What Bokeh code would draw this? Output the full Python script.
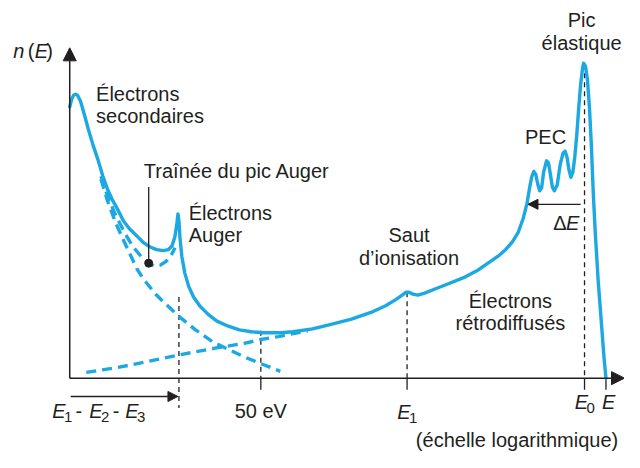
from bokeh.plotting import figure
from bokeh.models import Range1d, Arrow, NormalHead, ColumnDataSource
from bokeh.core.properties import value
from bokeh.embed import file_html
from bokeh.resources import INLINE

BLUE = "#1ba8e3"
INK = "#231f20"
FONT = value("Liberation Sans")

# ---- data (schematic spectrum, in picture units) ----
main_x = [71, 73, 75, 77, 79, 82, 86, 90, 95, 100, 105, 110, 115, 120, 126, 132, 140, 147, 153, 160,
          167, 172, 176, 179, 181, 182, 183, 184, 186, 189, 193, 198, 205, 213, 222, 233, 245, 257, 270,
          287, 300, 320, 340, 360, 380, 395, 405, 412, 416, 419, 423, 428, 435, 445, 460, 475, 490, 500,
          510, 518, 525, 531, 536, 540, 543, 545, 547, 549, 551, 553, 555, 557, 560, 562, 564, 566, 568,
          571, 574, 577, 579, 581, 583, 585, 587, 589, 591, 593, 595, 597, 598, 600, 602, 604, 606, 608,
          610, 613, 616, 619, 621]
main_y = [110, 102, 98, 97, 98, 104, 118, 133, 150, 165, 182, 196, 207, 216, 228, 236, 244, 251, 255, 258,
          259, 258, 254, 244, 230, 221, 228, 245, 265, 282, 296, 307, 317, 325, 332, 337, 341, 343, 344,
          344, 343, 340, 335, 330, 323, 316, 310, 305, 302, 302, 304, 305, 303, 299, 293, 287, 279, 272,
          265, 258, 250, 240, 226, 210, 192, 182, 177, 180, 190, 197, 194, 178, 166, 168, 180, 193, 197,
          191, 170, 158, 156, 162, 175, 183, 178, 162, 140, 112, 87, 70, 65, 68, 82, 110, 150, 200,
          240, 290, 330, 370, 391]

trail_x = [103, 110, 118, 127, 136, 145, 152, 158, 164, 170, 175, 179]
trail_y = [182, 203, 222, 240, 255, 266, 272, 275, 274, 270, 264, 256]

tail_x = [103, 110, 118, 127, 134, 140, 147, 160, 167, 183, 200, 217, 227, 250, 267, 287]
tail_y = [185, 208, 230, 250, 265, 278, 289, 305, 312, 327, 341, 353, 358, 369, 376, 384]

back_x = [88, 120, 150, 183, 220, 250, 267, 285, 300, 315]
back_y = [385, 380, 374, 367, 360, 355, 351, 348, 345, 342]

# reference energies on the axis
mark_x = [183, 267, 417, 599]
mark_top = [307, 342, 302, 66]
mark_bottom = [422, 391, 391, 391]
tick_x = [267, 417, 599, 621]

labels = ["Électrons", "secondaires", "Traînée du pic Auger", "Électrons", "Auger"]
labels_x = [98, 98, 147, 193, 193]
labels_y = [97, 120, 177, 220, 243]

clabels = ["PEC", "Saut", "d\u2019ionisation", "Électrons", "rétrodiffusés", "Pic", "élastique", "50 eV"]
clabels_x = [559, 419, 419, 523, 523, 596, 596, 267]
clabels_y = [141, 243, 267, 311, 334, 20, 44, 425]

p = figure(width=624, height=452, x_range=Range1d(0, 640), y_range=Range1d(468, 0),
           output_backend="svg", toolbar_location=None, min_border=0)
p.axis.visible = False
p.grid.visible = False
p.outline_line_color = None
p.background_fill_color = "white"

# axes
p.add_layout(Arrow(end=NormalHead(size=13, fill_color=INK, line_color=INK),
                   x_start=71, y_start=391, x_end=71, y_end=49, line_color=INK, line_width=1.5))
p.add_layout(Arrow(end=NormalHead(size=13, fill_color=INK, line_color=INK),
                   x_start=71, y_start=391, x_end=640, y_end=391, line_color=INK, line_width=1.5))

# dashed reference lines and ticks
p.segment(x0=mark_x, y0=mark_top, x1=mark_x, y1=mark_bottom, line_color=INK,
          line_width=1.3, line_dash="5 4")
p.segment(x0=tick_x, y0=[391] * len(tick_x), x1=tick_x, y1=[403] * len(tick_x),
          line_color=INK, line_width=1.3)

# dashed blue components
for xs, ys in [(tail_x, tail_y), (trail_x, trail_y), (back_x, back_y)]:
    p.line(xs, ys, line_color=BLUE, line_width=3.4, line_dash="10 6")

# main curve
p.line(main_x, main_y, line_color=BLUE, line_width=3.4, line_join="round", line_cap="round")

# Auger trail leader
p.segment(x0=[152], y0=[193], x1=[152], y1=[272], line_color=INK, line_width=1.3)
p.scatter([152], [272], size=8, color=INK)

# arrows E1-E2-E3 and Delta E
p.add_layout(Arrow(end=NormalHead(size=10, fill_color=INK, line_color=INK),
                   x_start=72, y_start=410, x_end=182, y_end=410, line_color=INK, line_width=1.3))
p.add_layout(Arrow(end=NormalHead(size=10, fill_color=INK, line_color=INK),
                   x_start=595, y_start=211, x_end=541, y_end=211, line_color=INK, line_width=1.3))

FS = "20px"
src_l = ColumnDataSource(dict(x=labels_x, y=labels_y, t=labels))
p.text("x", "y", text="t", source=src_l, text_font=FONT, text_font_size=FS,
       text_color=INK, text_baseline="middle", text_align="left")
src_c = ColumnDataSource(dict(x=clabels_x, y=clabels_y, t=clabels))
p.text("x", "y", text="t", source=src_c, text_font=FONT, text_font_size=FS,
       text_color=INK, text_baseline="middle", text_align="center")

# italic symbols
it_t = ["n", "E", "E", "E", "E", "E", "E", "E", "E"]
it_x = [13, 35, 53, 91, 128, 407, 589, 617, 580]
it_y = [52, 52, 425, 425, 425, 426, 416, 416, 230]
p.text(it_x, it_y, text=it_t, text_font=FONT, text_font_size=FS, text_font_style="italic",
       text_color=INK, text_baseline="middle", text_align="left")
up_t = ["(", ")", "-", "-", "\u0394", "(échelle logarithmique)"]
up_x = [28, 47, 77, 115, 567, 426]
up_y = [52, 52, 425, 425, 230, 455]
p.text(up_x, up_y, text=up_t, text_font=FONT, text_font_size=FS,
       text_color=INK, text_baseline="middle", text_align="left")
sub_t = ["1", "2", "3", "1", "0"]
sub_x = [65, 103, 140, 419, 601]
sub_y = [431, 431, 431, 432, 422]
p.text(sub_x, sub_y, text=sub_t, text_font=FONT, text_font_size="15px",
       text_color=INK, text_baseline="middle", text_align="left")

open("out.html", "w").write(file_html(p, INLINE))
